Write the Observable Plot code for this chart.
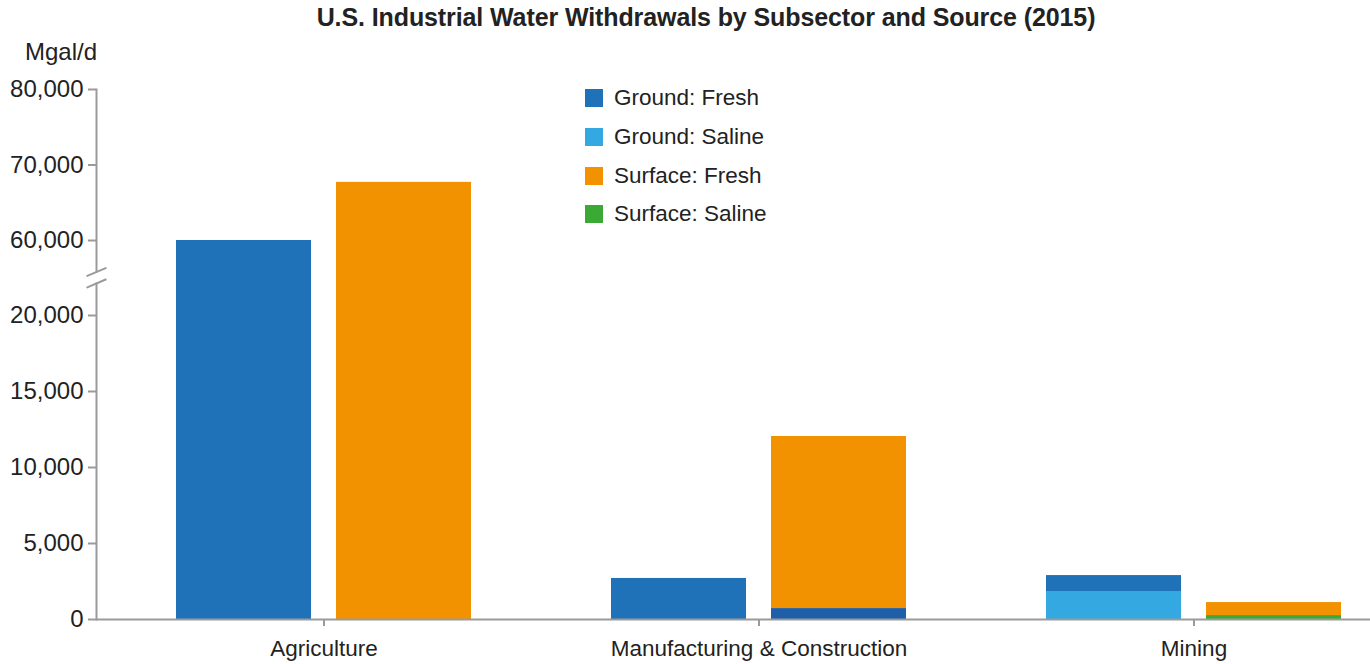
<!DOCTYPE html>
<html><head><meta charset="utf-8">
<script src="https://cdn.jsdelivr.net/npm/d3@7"></script>
<script src="https://cdn.jsdelivr.net/npm/@observablehq/plot@0.6"></script>
<style>
html,body{margin:0;padding:0;background:#fff;overflow:hidden;}
#wrap{position:relative;width:1370px;height:664px;font-family:"Liberation Sans",Arial,sans-serif;color:#222;}
#chart{position:absolute;left:0;top:0;}
#title{position:absolute;top:3px;left:706px;transform:translateX(-50%);white-space:nowrap;font-weight:bold;font-size:25px;color:#222;letter-spacing:-0.1px;}
#unit{position:absolute;top:38px;left:25px;font-size:24px;color:#222;}
#legend{position:absolute;left:585px;top:0;}
.item{position:absolute;left:0;white-space:nowrap;display:flex;align-items:center;height:30px;font-size:22.5px;color:#222;}
.sw{width:18px;height:18px;margin-right:11px;flex:none;}
</style></head><body>
<div id="wrap">
  <div id="chart"></div>
  <div id="title">U.S. Industrial Water Withdrawals by Subsector and Source (2015)</div>
  <div id="unit">Mgal/d</div>
  <div id="legend"></div>
</div>
<script>
// ---- data (Mgal/d) ----
const subsectors = ["Agriculture", "Manufacturing & Construction", "Mining"];
const series = ["Ground: Fresh", "Ground: Saline", "Surface: Fresh", "Surface: Saline"];
const groundFresh   = [60000, 2700, 1050];
const groundSaline  = [0, 0, 1840];
const surfaceFresh  = [67700, 11320, 855];
const surfaceSaline = [0, 720, 260];
const yTicks = [0, 5000, 10000, 15000, 20000, 60000, 70000, 80000];
const yBreakDomain = [0, 20000, 60000, 80000];
const axisBreaks = [37100, 43200];

// ---- styles ----
const seriesColors = ["#1f71b8", "#34a8e0", "#f39200", "#3aaa35"];
const mfgSalineColor = "#1f5fa9"; // the M&C surface-saline segment is drawn dark blue in the original
const axisGray = "#9a9a9a";

// ---- table ----
const rows = [];
subsectors.forEach((s, i) => {
  const add = (source, type, value) => {
    if (value > 0) {
      const key = (type === "Surface: Saline" && s === "Manufacturing & Construction") ? type + " (M&C)" : type;
      rows.push({subsector: s, source, type, key, value});
    }
  };
  add("Ground", "Ground: Saline", groundSaline[i]);
  add("Ground", "Ground: Fresh", groundFresh[i]);
  add("Surface", "Surface: Saline", surfaceSaline[i]);
  add("Surface", "Surface: Fresh", surfaceFresh[i]);
});
const colorKeys = [...series, "Surface: Saline (M&C)"];
const colorRange = [...seriesColors, mfgSalineColor];

// bar geometry inside each 435px category band
const band = 435, barW = 135, gap = 25;
const outer = (band - 2 * barW - gap) / 2;

const lineShape = {draw(ctx, l) { ctx.moveTo(0, 0); ctx.lineTo(0, -l); }};

const plot = Plot.plot({
  width: 1370, height: 664,
  marginTop: 89, marginBottom: 45, marginLeft: 96, marginRight: 0,
  style: {fontFamily: "Liberation Sans, Arial, sans-serif", color: "#222", background: "transparent"},
  x: {domain: subsectors, range: [105.5, 1410.5], padding: 0, label: null},
  y: {type: "linear", domain: yBreakDomain, range: [619, 315, 240, 89], label: null},
  color: {domain: colorKeys, range: colorRange},
  marks: [
    Plot.barY(rows.filter(d => d.source === "Ground"), {x: "subsector", y: "value", fill: "key", insetLeft: outer, insetRight: outer + barW + gap}),
    Plot.barY(rows.filter(d => d.source === "Surface"), {x: "subsector", y: "value", fill: "key", insetLeft: outer + barW + gap, insetRight: outer}),
    Plot.ruleY([0], {stroke: axisGray, strokeWidth: 2}),
    Plot.frame({anchor: "left", stroke: axisGray, strokeWidth: 2, insetBottom: 348}),
    Plot.frame({anchor: "left", stroke: axisGray, strokeWidth: 2, insetTop: 194}),
    Plot.vector(axisBreaks, {y: d => d, frameAnchor: "left", length: 20, rotate: 67, anchor: "middle", shape: lineShape, stroke: axisGray, strokeWidth: 2}),
    Plot.axisY(yTicks, {tickSize: 8, tickPadding: 5, tickFormat: d3.format(","), fontSize: 24, stroke: axisGray, strokeWidth: 2, fill: "#222", label: null}),
    Plot.axisX({tickSize: 7, tickPadding: 14, fontSize: 22.5, stroke: axisGray, strokeWidth: 2, fill: "#222", label: null})
  ]
});
document.getElementById("chart").appendChild(plot);

// legend
const color = plot.scale("color");
const legend = document.getElementById("legend");
series.forEach((s, i) => {
  const item = document.createElement("div");
  item.className = "item";
  item.style.top = (83 + i * 38.8) + "px";
  const sw = document.createElement("div");
  sw.className = "sw";
  sw.style.background = color.apply(s);
  const t = document.createElement("span");
  t.textContent = s;
  item.appendChild(sw); item.appendChild(t);
  legend.appendChild(item);
});
</script>
</body></html>
